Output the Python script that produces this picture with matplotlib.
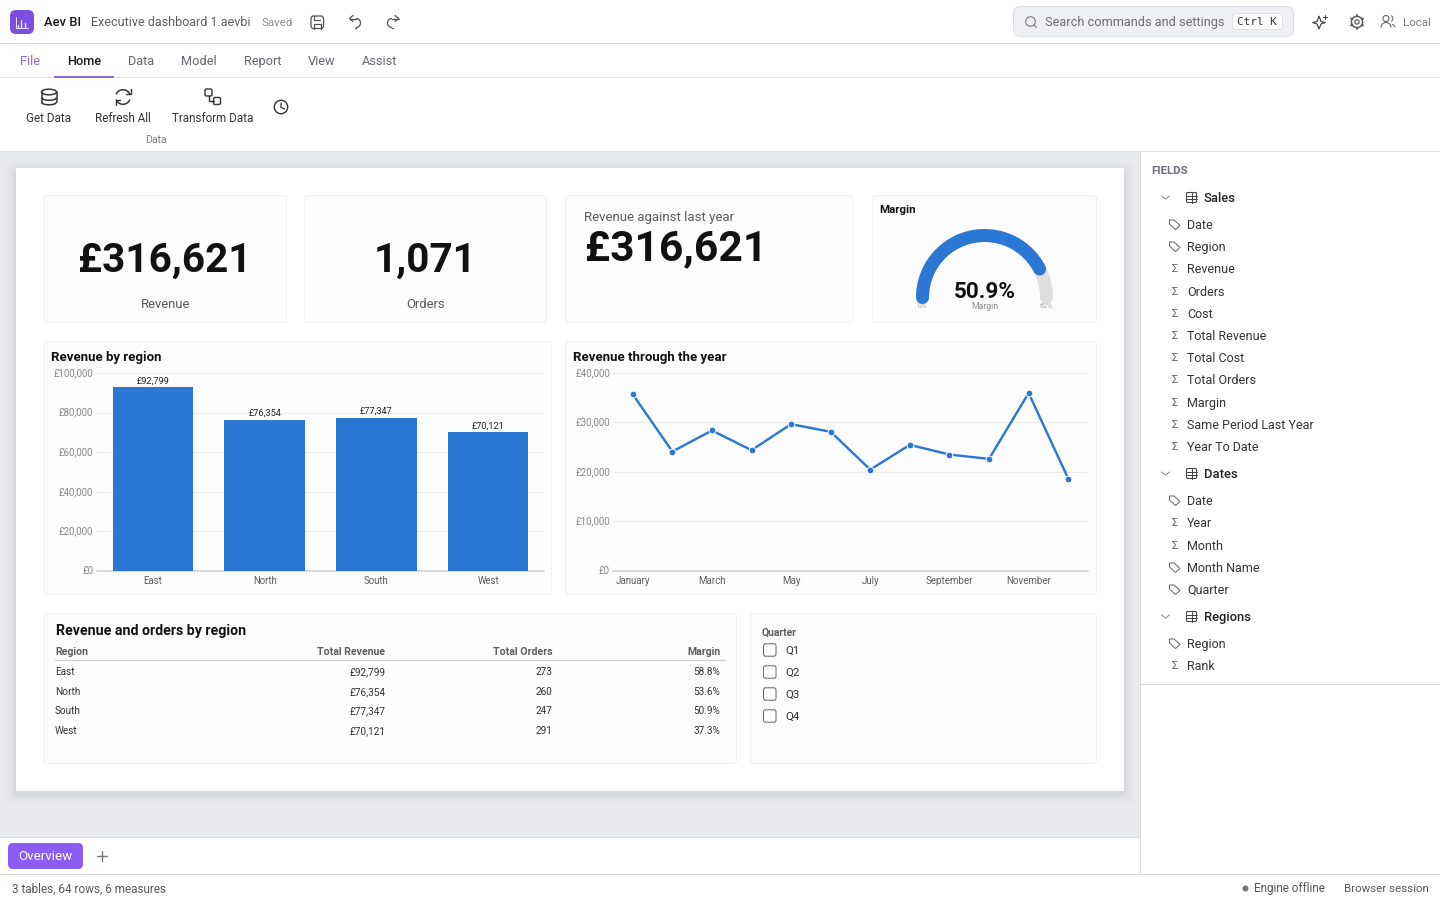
import numpy as np
import matplotlib
matplotlib.use("Agg")
import matplotlib.pyplot as plt
from matplotlib.patches import FancyBboxPatch, Rectangle, Circle, Ellipse, Arc, Polygon
from matplotlib.transforms import ScaledTranslation

plt.rcParams['font.family'] = ['Roboto', 'DejaVu Sans']

# ---------- data ----------
regions = ["East", "North", "South", "West"]
region_revenue = [92799, 76354, 77347, 70121]
region_orders = [273, 260, 247, 291]
region_margin = [58.8, 53.6, 50.9, 37.3]
bar_ticks = [0, 20000, 40000, 60000, 80000, 100000]
months = ["January", "February", "March", "April", "May", "June", "July",
          "August", "September", "October", "November", "December"]
month_revenue = [35670, 24095, 28360, 24365, 29645, 28090, 20440, 25450, 23485, 22605, 35940, 18610]
line_ticks = [0, 10000, 20000, 30000, 40000]
total_revenue = "£316,621"
total_orders = "1,071"
margin_value = 50.9
margin_max = 60
quarters = ["Q1", "Q2", "Q3", "Q4"]
tabs = ["File", "Home", "Data", "Model", "Report", "View", "Assist"]
sales_fields = ["Date", "Region", "Revenue", "Orders", "Cost", "Total Revenue", "Total Cost",
                "Total Orders", "Margin", "Same Period Last Year", "Year To Date"]
sales_kinds = ["t", "t", "s", "s", "s", "s", "s", "s", "s", "s", "s"]
dates_fields = ["Date", "Year", "Month", "Month Name", "Quarter"]
dates_kinds = ["t", "s", "s", "t", "t"]
regions_fields = ["Region", "Rank"]
regions_kinds = ["t", "s"]

BLUE = "#2B78D4"
PURPLE = "#8B5CF6"
INK = "#111111"
W, H = 1440, 900
PX = 0.72

fig = plt.figure(figsize=(14.4, 9), dpi=100, facecolor="white")
bg = fig.add_axes([0, 0, 1, 1], zorder=0)
bg.set_xlim(0, W); bg.set_ylim(H, 0); bg.axis("off")


def T(x, y, s, size=13, color=INK, ha="left", weight="normal", family=None, ax=bg, z=5):
    kw = {}
    if family:
        kw["family"] = family
    return ax.text(x, y - 0.7, s, fontsize=size * PX, color=color, ha=ha, va="center_baseline",
                   fontweight=weight, zorder=z, **kw)


def R(x0, y0, x1, y1, fc, ec="none", lw=0, rad=0, z=1, alpha=None):
    if rad:
        p = FancyBboxPatch((x0 + rad, y0 + rad), x1 - x0 - 2 * rad, y1 - y0 - 2 * rad,
                           boxstyle=f"round,pad={rad},rounding_size={rad}",
                           fc=fc, ec=ec, lw=lw * PX, zorder=z, alpha=alpha)
    else:
        p = Rectangle((x0, y0), x1 - x0, y1 - y0, fc=fc, ec=ec, lw=lw * PX, zorder=z, alpha=alpha)
    bg.add_patch(p)
    return p


def L(xs, ys, color="#E1E1E4", lw=1, z=2, cap="round"):
    bg.plot(xs, ys, color=color, lw=lw * PX, zorder=z, solid_capstyle=cap, solid_joinstyle="round")


def arc(cx, cy, r, a0, a1, color="#333", lw=1.4, z=6):
    bg.add_patch(Arc((cx, cy), 2 * r, 2 * r, theta1=a0, theta2=a1, color=color, lw=lw * PX, zorder=z))


# ---------- app regions ----------
R(0, 152, 1140, 837, "#E8EAED")
for i, a in zip([10, 7, 4, 2], [0.015, 0.025, 0.035, 0.05]):
    R(16 - i, 168 - i + 3, 1124 + i, 791 + i + 3, "#555B66", alpha=a, rad=6, z=1.5)
R(16, 168, 1124, 791, "#FFFFFF", z=2)
L([0, 1440], [43, 43], "#D8D8DB")
L([0, 1440], [77, 77], "#E2E2E5")
L([0, 1440], [151, 151], "#DADADD")
L([1140, 1140], [152, 874], "#DADADD")
L([0, 1140], [837, 837], "#DADADD")
L([0, 1440], [874, 874], "#DADADD")
L([1141, 1440], [684, 684], "#DADADD")

# ---------- title bar ----------
R(10, 10, 34, 34, "#7C4FE0", rad=6, z=3)
for x, y0 in zip([17.5, 21, 24.5], [25, 20, 23]):
    L([x, x], [27, y0], "#E6DCFB", 1.4, z=4)
L([15.5, 28], [27.7, 27.7], "#E6DCFB", 1.0, z=4)
L([15.5, 15.5], [17, 27.7], "#E6DCFB", 1.0, z=4)
T(44, 21.5, "Aev BI", 13, "#1B1B1F", weight="medium")
T(91, 21.5, "Executive dashboard 1.aevbi", 12.5, "#5C5F66")
T(261, 22.7, "Saved", 11.5, "#8A8D93")
# save icon
R(311, 16, 323.5, 28.5, "none", ec="#555", lw=1.3, rad=2.5, z=6)
L([314, 314, 320.5, 320.5], [28.5, 23.5, 23.5, 28.5], "#555", 1.2, z=6)
L([314, 314, 319.5], [16, 19.5, 19.5], "#555", 1.2, z=6)
# undo / redo
arc(356, 23, 4.5, -90, 90, "#555", 1.3)
L([349.5, 356, 356], [18.5, 18.5, 18.5], "#555", 1.3, z=6)
L([353, 349.5, 353], [15.5, 18.5, 21.5], "#555", 1.3, z=6)
L([355, 356], [27.5, 27.5], "#555", 1.3, z=6)
arc(392, 23, 4.5, 90, 270, "#555", 1.3)
L([392, 398.5], [18.5, 18.5], "#555", 1.3, z=6)
L([395, 398.5, 395], [15.5, 18.5, 21.5], "#555", 1.3, z=6)
L([392, 393], [27.5, 27.5], "#555", 1.3, z=6)
# search box
R(1013.5, 6.5, 1293.5, 36.5, "#EEF0F3", ec="#DADCE0", lw=1, rad=7, z=3)
bg.add_patch(Circle((1030.5, 21.5), 4.8, fc="none", ec="#777", lw=1.1 * PX, zorder=6))
L([1034, 1036.5], [25, 27.5], "#777", 1.1, z=6)
T(1045, 21.5, "Search commands and settings", 12.7, "#6C7078")
R(1232.5, 13.5, 1282.5, 29.5, "#FFFFFF", ec="#DDDFE3", lw=1, rad=3, z=4)
T(1237, 21.5, "Ctrl K", 11, "#333333", family="DejaVu Sans Mono")
# sparkle icon
star = [(1319, 16), (1321, 21.5), (1325.5, 22.5), (1321, 24), (1319, 29), (1317, 24), (1312.5, 22.5), (1317, 21.5)]
bg.add_patch(Polygon(star, closed=True, fc="none", ec="#444", lw=1.2 * PX, zorder=6))
L([1324.5, 1324.5], [15, 19], "#444", 1.1, z=6)
L([1322.5, 1326.5], [17, 17], "#444", 1.1, z=6)
# gear icon
bg.add_patch(Circle((1357, 22), 5.6, fc="none", ec="#555", lw=1.5 * PX, zorder=6))
bg.add_patch(Circle((1357, 22), 2.1, fc="none", ec="#555", lw=1.2 * PX, zorder=6))
for a in np.deg2rad(np.arange(0, 360, 60) + 30):
    L([1357 + 5.6 * np.cos(a), 1357 + 7 * np.cos(a)], [22 + 5.6 * np.sin(a), 22 + 7 * np.sin(a)], "#555", 1.8, z=6)
# people icon
bg.add_patch(Circle((1386, 18.5), 3, fc="none", ec="#666", lw=1.1 * PX, zorder=6))
arc(1386, 27.5, 5, 180, 360, "#666", 1.1)
arc(1390, 18.5, 3, -70, 70, "#666", 1.0)
arc(1392, 27.5, 3, 270, 360, "#666", 1.0)
T(1403, 22.7, "Local", 11.5, "#777A80")

# ---------- ribbon ----------
tab_x = [20, 67, 128, 181, 244, 308, 362]
for name, x in zip(tabs, tab_x):
    c = "#8B6BD6" if name == "File" else ("#1B1B1F" if name == "Home" else "#63666C")
    T(x, 60.5, name, 12.8, c, weight="medium" if name == "Home" else "normal")
L([54, 114], [76.5, 76.5], "#8B6BD6", 2, z=6, cap="butt")
# database
bg.add_patch(Ellipse((49, 92), 15, 5.6, fc="none", ec="#333", lw=1.5 * PX, zorder=6))
L([41.5, 41.5], [92, 102], "#333", 1.5, z=6)
L([56.5, 56.5], [92, 102], "#333", 1.5, z=6)
for yy in (97.5, 102):
    bg.add_patch(Arc((49, yy), 15, 5.6, theta1=0, theta2=180, color="#333", lw=1.5 * PX, zorder=6))
T(49, 118, "Get Data", 11.8, "#333333", ha="center")
# refresh
arc(123, 97, 7.3, 200, 340, "#333", 1.5)
arc(123, 97, 7.3, 20, 160, "#333", 1.5)
L([130.5, 130.5, 126], [89, 94, 94], "#333", 1.4, z=6)
L([115.5, 115.5, 120], [105, 100, 100], "#333", 1.4, z=6)
T(123, 118, "Refresh All", 11.6, "#333333", ha="center")
# transform
R(205, 89, 212, 96, "none", ec="#333", lw=1.4, rad=1.5, z=6)
R(213.5, 97.5, 220.5, 104.5, "none", ec="#333", lw=1.4, rad=1.5, z=6)
L([208.5, 208.5, 213.5], [96, 101, 101], "#333", 1.4, z=6)
T(213, 118, "Transform Data", 11.6, "#333333", ha="center")
# clock
bg.add_patch(Circle((281, 107), 6.7, fc="none", ec="#333", lw=1.4 * PX, zorder=6))
L([281, 281, 284.5], [103, 107.5, 109], "#333", 1.3, z=6)
T(156.5, 139.5, "Data", 10.5, "#7A7D83", ha="center")


# ---------- cards ----------
def card(x0, y0, x1, y1):
    R(x0 + .5, y0 + .5, x1 - .5, y1 - .5, "#FCFCFC", ec="#F1F1F1", lw=1, rad=3, z=2.5)


card(43, 195, 287, 323)
card(304, 195, 547, 323)
card(565, 195, 854, 323)
card(872, 195, 1097, 323)
card(43, 341, 552, 595)
card(565, 341, 1097, 595)
card(43, 613, 737, 764)
card(750, 613, 1097, 764)

T(165, 257, total_revenue, 40.5, "#111111", ha="center", weight="bold")
T(165.5, 303.5, "Revenue", 13, "#5A5A5A", ha="center")
T(425.5, 257, total_orders, 40.5, "#111111", ha="center", weight="bold")
T(425.5, 303.5, "Orders", 13, "#5A5A5A", ha="center")
T(584, 216.7, "Revenue against last year", 13.3, "#5A5A5A")
T(585, 244.5, total_revenue, 42.5, "#111111", weight="bold")
T(879, 209.7, "Margin", 11.5, "#111111", weight="bold")


def px_axes(x0, y0, x1, y1, z=3):
    a = fig.add_axes([x0 / W, 1 - y1 / H, (x1 - x0) / W, (y1 - y0) / H], zorder=z)
    a.patch.set_alpha(0)
    return a


def fmt(v):
    return f"£{v:,.0f}"


def style(a, ypad, size):
    for s in ("top", "right", "left"):
        a.spines[s].set_visible(False)
    a.spines["bottom"].set_color("#D2D0CC")
    a.spines["bottom"].set_linewidth(1.5 * PX)
    a.grid(axis="y", color="#EDEBE8", lw=1 * PX)
    a.set_axisbelow(True)
    a.tick_params(axis="both", length=0, labelsize=size * PX, colors="#888888")
    a.tick_params(axis="x", labelcolor="#605E5C", pad=3.7)
    a.tick_params(axis="y", pad=ypad)
    up = ScaledTranslation(0, 1 / 100, fig.dpi_scale_trans)
    for lab in a.get_yticklabels():
        lab.set_transform(lab.get_transform() + up)


# ---------- bar chart ----------
T(51, 356.7, "Revenue by region", 13.3, "#111111", weight="bold")
ax1 = px_axes(97, 373, 544, 571)
ax1.set_xlim(-0.5, 3.5)
ax1.set_ylim(0, 100000)
bars = ax1.bar(regions, region_revenue, width=0.72, color=BLUE, zorder=3)
ax1.set_yticks(bar_ticks, [fmt(v) for v in bar_ticks])
for b, v in zip(bars, region_revenue):
    ax1.annotate(fmt(v), (b.get_x() + b.get_width() / 2, v), xytext=(0, 1.3), textcoords="offset points",
                 ha="center", va="bottom", fontsize=9.2 * PX, color="#222222")
style(ax1, 2.6, 9.6)

# ---------- line chart ----------
T(573, 356.7, "Revenue through the year", 13.3, "#111111", weight="bold")
ax2 = px_axes(613, 373, 1088, 570.5)
ax2.set_xlim(-0.5, 11.5)
ax2.set_ylim(0, 40000)
xpos = np.arange(len(months))
ax2.plot(xpos, month_revenue, color=BLUE, lw=2.4 * PX, marker="o", ms=6.8 * PX, mfc=BLUE,
         mec="white", mew=1 * PX, zorder=4, clip_on=False)
ax2.set_xticks(xpos[::2], months[::2])
ax2.set_yticks(line_ticks, [fmt(v) for v in line_ticks])
style(ax2, 2.2, 9.8)

# ---------- gauge ----------
ax3 = px_axes(905, 220, 1064, 315)
ax3.set_xlim(905 - 984.5, 1064 - 984.5)
ax3.set_ylim(297.5 - 315, 297.5 - 220)
ax3.axis("off")
gauge_r = 62
th_all = np.linspace(np.pi, 0, 200)
th_val = np.linspace(np.pi, np.pi * (1 - margin_value / margin_max), 200)
ax3.plot(gauge_r * np.cos(th_all), gauge_r * np.sin(th_all), color="#E1DFDD", lw=13 * PX,
         solid_capstyle="round", clip_on=False)
ax3.plot(gauge_r * np.cos(th_val), gauge_r * np.sin(th_val), color=BLUE, lw=13 * PX,
         solid_capstyle="round", clip_on=False)
T(984.5, 290, f"{margin_value}%", 22.5, "#111111", ha="center", weight="bold", z=9)
T(984.5, 306.5, "Margin", 8.6, "#8A8A8A", ha="center", z=9)
T(922.5, 306.5, "0%", 7, "#A0A0A0", ha="center", z=9)
T(1045.5, 306.5, f"{margin_max}%", 7, "#A0A0A0", ha="center", z=9)

# ---------- table ----------
T(55.5, 630.5, "Revenue and orders by region", 14.1, "#111111", weight="bold")
T(55, 651.5, "Region", 10.5, "#605E5C", weight="bold")
for x, h in zip([385, 552.5, 720], ["Total Revenue", "Total Orders", "Margin"]):
    T(x, 651.5, h, 10.5, "#605E5C", ha="right", weight="bold")
L([55, 725], [659.5, 659.5], "#CFCFCF", 1.2, z=3)
row_y = [671.5, 691.5, 710.5, 730.5]
for y, r, rev, o, m in zip(row_y, regions, region_revenue, region_orders, region_margin):
    T(55, y, r, 10, "#333333")
    T(385.5, y, fmt(rev), 10, "#333333", ha="right")
    T(552.5, y, str(o), 10, "#333333", ha="right")
    T(720, y, f"{m}%", 10, "#333333", ha="right")

# ---------- slicer ----------
T(761.5, 632, "Quarter", 10.3, "#605E5C", weight="bold")
for y, q in zip([650, 672, 694, 716], quarters):
    R(763.5, y - 6.2, 776, y + 6.2, "#FFFFFF", ec="#666666", lw=1, rad=2, z=4)
    T(785, y, q, 11.5, "#333333")


# ---------- field list ----------
def field_icon(kind, y):
    if kind == "t":
        pts = [(1169.5, y - 4.5), (1174, y - 4.5), (1180, y + 1), (1175.5, y + 5), (1169.5, y - .5)]
        bg.add_patch(Polygon(pts, closed=True, fc="none", ec="#666", lw=1 * PX, zorder=6))
    else:
        T(1175, y, "Σ", 11, "#666666", ha="center")


def group(title, y, names, kinds, ys):
    L([1161.5, 1165.5, 1169.5], [y - 1.5, y + 1.5, y - 1.5], "#888888", 1, z=6)
    R(1186.5, y - 5, 1196.5, y + 5, "none", ec="#444", lw=1.1, rad=1.3, z=6)
    L([1186.5, 1196.5], [y - 1.7, y - 1.7], "#444", 1, z=6)
    L([1186.5, 1196.5], [y + 1.7, y + 1.7], "#444", 1, z=6)
    L([1191.5, 1191.5], [y - 5, y + 5], "#444", 1, z=6)
    T(1204, y, title, 13, "#222222", weight="medium")
    for n, k, yy in zip(names, kinds, ys):
        field_icon(k, yy)
        T(1187, yy, n, 12.5, "#333333")


T(1151, 170.7, "FIELDS", 11.5, "#6E7079", weight="bold")
group("Sales", 197.5, sales_fields, sales_kinds, [224.5, 246.5, 268.5, 291.5, 313.5, 335.5, 357.5, 379.5, 402.5, 424.5, 446.5])
group("Dates", 473.5, dates_fields, dates_kinds, [500.5, 522.5, 545.5, 567.5, 589.5])
group("Regions", 616.5, regions_fields, regions_kinds, [643.5, 665.5])

# ---------- tab / status ----------
R(0, 838, 1140, 874, "#FFFFFF")
R(8, 843, 83, 869, PURPLE, rad=5, z=3)
T(45.5, 856, "Overview", 13.4, "#FFFFFF", ha="center")
L([97, 107], [856, 856], "#777777", 1.4, z=6)
L([102, 102], [851, 861], "#777777", 1.4, z=6)
T(12, 888, "3 tables, 64 rows, 6 measures", 11.7, "#55585E")
bg.add_patch(Circle((1245.5, 888.5), 3, fc="#777777", ec="none", zorder=6))
T(1254, 888, "Engine offline", 11.8, "#55585E")
T(1344.5, 888.7, "Browser session", 11.5, "#55585E")

fig.savefig("out.png", dpi=100, facecolor="white")
